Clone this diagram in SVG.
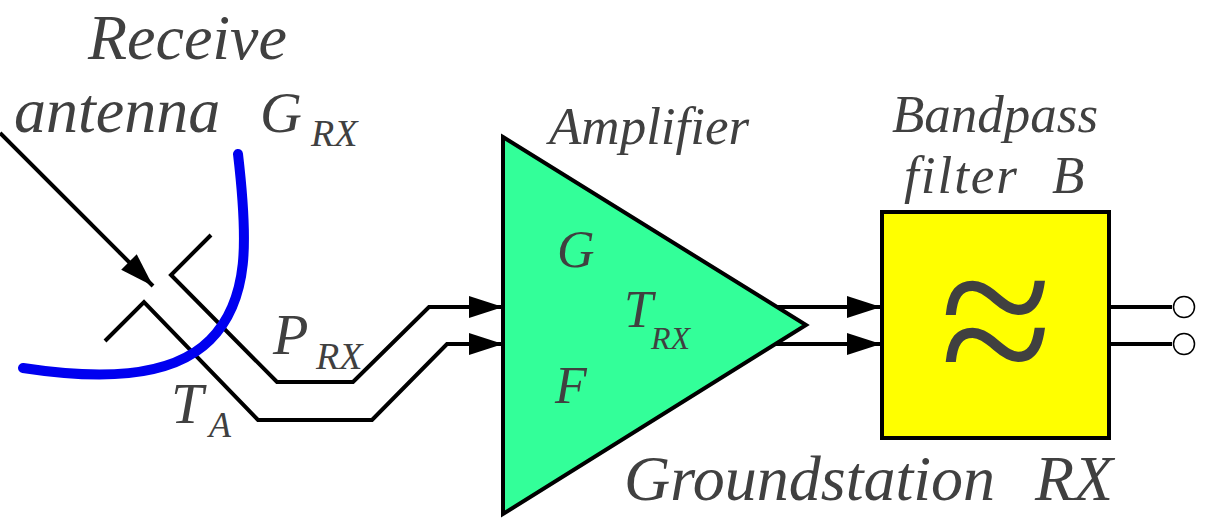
<svg xmlns="http://www.w3.org/2000/svg" width="1210" height="519" viewBox="0 0 1210 519">
<style>
.t{font-family:"Liberation Serif",serif;font-style:italic;fill:#404040}
.w{font-family:"Liberation Serif",serif;fill:#404040;font-size:205px}
.l{fill:none;stroke:#000;stroke-width:4}
</style>
<defs><marker id="a" markerUnits="userSpaceOnUse" markerWidth="36" markerHeight="24" refX="34" refY="11" orient="auto"><path d="M0 0L34 11L0 22Z" fill="#000"/></marker></defs>
<g id="connectors">
<path class="l" d="M0 133L153 286" marker-end="url(#a)"/>
<path class="l" d="M211 235L171 275L277 382H353L429 307H503" marker-end="url(#a)"/>
<path class="l" d="M105 341L144 302L258 420H372L447 344H503" marker-end="url(#a)"/>
<path class="l" d="M776 307H881" marker-end="url(#a)"/>
<path class="l" d="M776 344H881" marker-end="url(#a)"/>
<path class="l" d="M1109 307H1172"/>
<path class="l" d="M1109 344H1172"/>
</g>
<g id="dish"><path d="M238 154C248 240 250 300 210 340C170 380 95 379 23 368" fill="none" stroke="#0000f0" stroke-width="10" stroke-linecap="round"/></g>
<g id="amplifier"><path d="M503 137L806 325L503 514Z" fill="#33ff99" stroke="#000" stroke-width="4"/>
<text class="t" x="557" y="267" font-size="52">G</text>
<text class="t" x="555" y="403" font-size="52">F</text>
<text class="t" x="624" y="327" font-size="52">T</text>
<text class="t" x="651" y="349" font-size="32">RX</text>
<text class="t" x="549" y="144" font-size="53">Amplifier</text></g>
<g id="filter"><rect x="882" y="212" width="227" height="226" fill="#ff0" stroke="#000" stroke-width="4"/>
<text class="w" x="940" y="365">~</text>
<text class="w" x="940" y="412">~</text>
<text class="t" x="892" y="132" font-size="53">Bandpass</text>
<text class="t" x="904" y="193" font-size="53" textLength="113">filter</text>
<text class="t" x="1052" y="193" font-size="53">B</text></g>
<g id="port1"><circle cx="1184" cy="307" r="10.5" fill="#fff" stroke="#000" stroke-width="1.5"/></g>
<g id="port2"><circle cx="1184" cy="344" r="10.5" fill="#fff" stroke="#000" stroke-width="1.5"/></g>
<g id="labels">
<text class="t" x="88" y="59" font-size="64">Receive</text>
<text class="t" x="14" y="132" font-size="64">antenna</text>
<text class="t" x="260" y="132" font-size="58">G</text>
<text class="t" x="311" y="146" font-size="38">RX</text>
<text class="t" x="273" y="354" font-size="58">P</text>
<text class="t" x="316" y="369" font-size="38">RX</text>
<text class="t" x="171" y="423" font-size="58">T</text>
<text class="t" x="209" y="437" font-size="36">A</text>
<text class="t" x="624" y="500" font-size="64">Groundstation</text>
<text class="t" x="1035" y="500" font-size="64">RX</text>
</g>
</svg>
